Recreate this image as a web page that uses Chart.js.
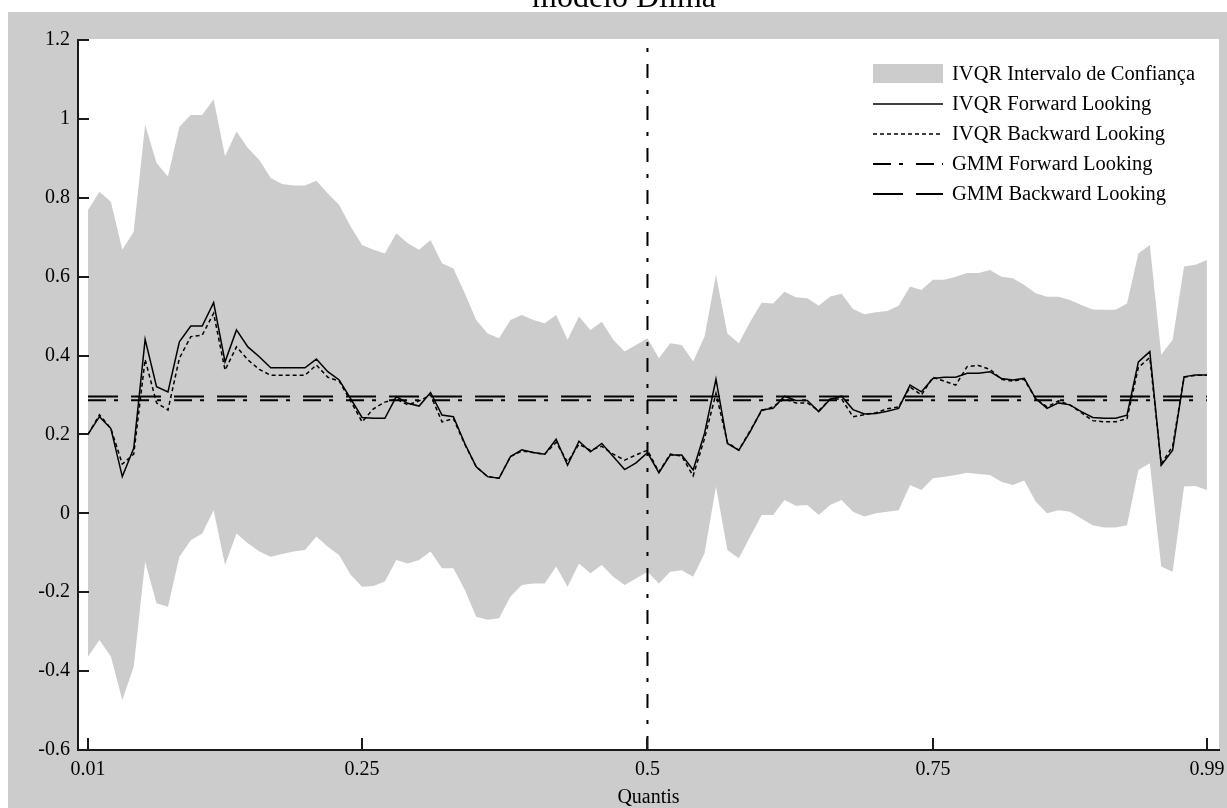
<!DOCTYPE html>
<html lang="pt-BR">
<head>
<meta charset="utf-8">
<title>modelo Dlima</title>
<script src="https://cdn.jsdelivr.net/npm/chart.js@4.4.1/dist/chart.umd.min.js"></script>
<style>
    html, body { margin: 0; padding: 0; background: #fff; }
    canvas { display: block; }
</style>
</head>
<body>
<canvas id="grafico_quantis" width="1227" height="808"></canvas>
<script>
const quantis = [
    0.01, 0.02, 0.03, 0.04, 0.05, 0.06, 0.07, 0.08, 0.09, 0.10,
    0.11, 0.12, 0.13, 0.14, 0.15, 0.16, 0.17, 0.18, 0.19, 0.20,
    0.21, 0.22, 0.23, 0.24, 0.25, 0.26, 0.27, 0.28, 0.29, 0.30,
    0.31, 0.32, 0.33, 0.34, 0.35, 0.36, 0.37, 0.38, 0.39, 0.40,
    0.41, 0.42, 0.43, 0.44, 0.45, 0.46, 0.47, 0.48, 0.49, 0.50,
    0.51, 0.52, 0.53, 0.54, 0.55, 0.56, 0.57, 0.58, 0.59, 0.60,
    0.61, 0.62, 0.63, 0.64, 0.65, 0.66, 0.67, 0.68, 0.69, 0.70,
    0.71, 0.72, 0.73, 0.74, 0.75, 0.76, 0.77, 0.78, 0.79, 0.80,
    0.81, 0.82, 0.83, 0.84, 0.85, 0.86, 0.87, 0.88, 0.89, 0.90,
    0.91, 0.92, 0.93, 0.94, 0.95, 0.96, 0.97, 0.98, 0.99
];

// intervalo de confianca do IVQR
const limiteSuperior = [
    0.769, 0.815, 0.79, 0.668, 0.714, 0.985, 0.888, 0.854, 0.98, 1.01,
    1.01, 1.05, 0.905, 0.968, 0.926, 0.896, 0.85, 0.835, 0.831, 0.831,
    0.843, 0.811, 0.782, 0.727, 0.68, 0.668, 0.659, 0.71, 0.685, 0.668,
    0.693, 0.634, 0.621, 0.558, 0.49, 0.456, 0.444, 0.49, 0.503, 0.49,
    0.482, 0.503, 0.44, 0.499, 0.465, 0.486, 0.44, 0.41, 0.427, 0.444,
    0.393, 0.431, 0.427, 0.385, 0.448, 0.604, 0.456, 0.431, 0.486, 0.534,
    0.532, 0.562, 0.548, 0.545, 0.526, 0.55, 0.557, 0.518, 0.505, 0.51,
    0.513, 0.526, 0.575, 0.566, 0.592, 0.592, 0.6, 0.609, 0.609, 0.617,
    0.6, 0.596, 0.579, 0.558, 0.549, 0.549, 0.541, 0.528, 0.517, 0.516,
    0.516, 0.532, 0.659, 0.68, 0.402, 0.44, 0.626, 0.63, 0.642
];
const limiteInferior = [
    -0.363, -0.321, -0.363, -0.473, -0.389, -0.123, -0.228, -0.237, -0.11, -0.068,
    -0.051, 0.008, -0.131, -0.051, -0.076, -0.097, -0.11, -0.103, -0.097, -0.093,
    -0.059, -0.085, -0.106, -0.156, -0.186, -0.184, -0.173, -0.118, -0.127, -0.118,
    -0.097, -0.139, -0.139, -0.194, -0.262, -0.27, -0.266, -0.211, -0.182, -0.178,
    -0.178, -0.135, -0.186, -0.127, -0.152, -0.131, -0.161, -0.182, -0.165, -0.148,
    -0.178, -0.148, -0.144, -0.161, -0.101, 0.068, -0.093, -0.114, -0.059, -0.004,
    -0.004, 0.034, 0.019, 0.021, -0.004, 0.021, 0.034, 0.004, -0.008, 0,
    0.004, 0.008, 0.072, 0.059, 0.089, 0.093, 0.097, 0.103, 0.1, 0.097,
    0.08, 0.072, 0.083, 0.03, 0, 0.008, 0.004, -0.013, -0.03, -0.036,
    -0.036, -0.03, 0.11, 0.127, -0.135, -0.148, 0.068, 0.069, 0.059
];

const ivqrForward = [
    0.201, 0.245, 0.215, 0.093, 0.165, 0.441, 0.321, 0.308, 0.435, 0.475,
    0.475, 0.534, 0.384, 0.465, 0.422, 0.397, 0.369, 0.369, 0.369, 0.369,
    0.391, 0.359, 0.338, 0.291, 0.243, 0.241, 0.241, 0.296, 0.279, 0.272,
    0.306, 0.249, 0.245, 0.177, 0.118, 0.093, 0.089, 0.144, 0.161, 0.154,
    0.15, 0.188, 0.122, 0.183, 0.156, 0.177, 0.144, 0.111, 0.128, 0.154,
    0.103, 0.148, 0.148, 0.11, 0.203, 0.34, 0.177, 0.16, 0.207, 0.262,
    0.266, 0.297, 0.286, 0.286, 0.258, 0.289, 0.297, 0.263, 0.252, 0.253,
    0.259, 0.266, 0.325, 0.308, 0.342, 0.345, 0.345, 0.355, 0.355, 0.359,
    0.342, 0.338, 0.342, 0.291, 0.266, 0.28, 0.275, 0.258, 0.243, 0.241,
    0.241, 0.249, 0.384, 0.41, 0.122, 0.16, 0.346, 0.351, 0.351
];
const ivqrBackward = [
    0.2, 0.25, 0.215, 0.125, 0.15, 0.39, 0.28, 0.262, 0.393, 0.448,
    0.452, 0.507, 0.363, 0.422, 0.389, 0.365, 0.35, 0.35, 0.35, 0.35,
    0.376, 0.345, 0.335, 0.285, 0.232, 0.265, 0.282, 0.29, 0.275, 0.285,
    0.3, 0.232, 0.24, 0.175, 0.118, 0.093, 0.089, 0.144, 0.158, 0.154,
    0.15, 0.18, 0.13, 0.175, 0.16, 0.17, 0.15, 0.135, 0.148, 0.16,
    0.105, 0.15, 0.145, 0.095, 0.19, 0.304, 0.18, 0.16, 0.21, 0.26,
    0.27, 0.29, 0.28, 0.28, 0.26, 0.29, 0.29, 0.245, 0.25, 0.255,
    0.265, 0.27, 0.32, 0.3, 0.345, 0.335, 0.325, 0.372, 0.375, 0.365,
    0.34, 0.335, 0.34, 0.29, 0.27, 0.285, 0.275, 0.255, 0.235, 0.232,
    0.232, 0.24, 0.37, 0.395, 0.125, 0.17, 0.345, 0.35, 0.35
];

// estimativas GMM (constantes em todos os quantis)
const gmmForward = 0.287;
const gmmBackward = 0.296;

const mediana = 0.5;
const ticksX = [0.01, 0.25, 0.5, 0.75, 0.99];
const limitesY = [-0.6, 1.2];

const fonte = "'Liberation Serif', 'Times New Roman', serif";
const cinza = '#cccccc';
const preto = '#000000';

const ctxQuantis = document.getElementById('grafico_quantis').getContext('2d');

function pontos(valores) {
    return quantis.map((q, i) => ({ x: q, y: valores[i] }));
}

function reta(valor) {
    return [
        { x: quantis[0], y: valor },
        { x: quantis[quantis.length - 1], y: valor }
    ];
}

// fundo cinza com a area do grafico em branco, e o titulo cortado no topo
const fundo = {
    id: 'fundo',
    beforeDraw(chart) {
        const c = chart.ctx;
        const a = chart.chartArea;
        c.save();
        c.fillStyle = '#ffffff';
        c.fillRect(0, 0, chart.width, chart.height);
        c.fillStyle = cinza;
        c.fillRect(8, 12, chart.width - 8, chart.height - 12);
        c.fillStyle = '#ffffff';
        c.fillRect(a.left, a.top - 1, a.right - a.left, a.bottom - a.top + 1);
        c.fillStyle = preto;
        c.font = '32px ' + fonte;
        c.textAlign = 'center';
        c.textBaseline = 'alphabetic';
        c.fillText('modelo Dlima', 624, 7);
        c.restore();
    }
};

// marcas dos eixos voltadas para dentro
const marcasInternas = {
    id: 'marcasInternas',
    afterDatasetsDraw(chart) {
        const c = chart.ctx;
        const a = chart.chartArea;
        const sx = chart.scales.x;
        const sy = chart.scales.y;
        c.save();
        c.strokeStyle = '#1a1a1a';
        c.lineWidth = 2;
        c.beginPath();
        sy.ticks.forEach((t) => {
            const py = Math.round(sy.getPixelForValue(t.value));
            c.moveTo(a.left, py);
            c.lineTo(a.left + 11, py);
        });
        sx.ticks.forEach((t) => {
            const px = Math.round(sx.getPixelForValue(t.value));
            c.moveTo(px, a.bottom);
            c.lineTo(px, a.bottom - 12);
        });
        c.stroke();
        c.restore();
    }
};

// legenda dentro da area do grafico, no canto superior direito
const legendaInterna = {
    id: 'legendaInterna',
    afterDraw(chart) {
        const c = chart.ctx;
        const x0 = chart.chartArea.right - 346;
        let y = chart.chartArea.top + 34;
        chart.data.datasets.forEach((ds) => {
            if (!ds.label) {
                return;
            }
            c.save();
            if (ds.fill) {
                c.fillStyle = ds.backgroundColor;
                c.fillRect(x0, y - 10, 70, 19);
            } else {
                c.strokeStyle = ds.borderColor;
                c.lineWidth = ds.borderWidth;
                c.setLineDash(ds.borderDash || []);
                c.beginPath();
                c.moveTo(x0, y);
                c.lineTo(x0 + 70, y);
                c.stroke();
            }
            c.fillStyle = preto;
            c.font = '20.5px ' + fonte;
            c.textAlign = 'left';
            c.textBaseline = 'middle';
            c.fillText(ds.label, x0 + 79, y + 1);
            c.restore();
            y += 30;
        });
    }
};

new Chart(ctxQuantis, {
    type: 'line',
    data: {
        datasets: [{
            label: 'IVQR Intervalo de Confiança',
            data: pontos(limiteSuperior),
            fill: '+1',
            backgroundColor: cinza,
            borderColor: 'rgba(0, 0, 0, 0)',
            borderWidth: 0,
            pointRadius: 0
        }, {
            label: '',
            data: pontos(limiteInferior),
            fill: false,
            borderColor: 'rgba(0, 0, 0, 0)',
            borderWidth: 0,
            pointRadius: 0
        }, {
            label: 'IVQR Forward Looking',
            data: pontos(ivqrForward),
            fill: false,
            borderColor: preto,
            borderWidth: 1.5,
            pointRadius: 0
        }, {
            label: 'IVQR Backward Looking',
            data: pontos(ivqrBackward),
            fill: false,
            borderColor: preto,
            borderWidth: 1.5,
            borderDash: [4, 3],
            pointRadius: 0
        }, {
            label: 'GMM Forward Looking',
            data: reta(gmmForward),
            fill: false,
            borderColor: preto,
            borderWidth: 2,
            borderDash: [18, 8, 4, 13],
            pointRadius: 0
        }, {
            label: 'GMM Backward Looking',
            data: reta(gmmBackward),
            fill: false,
            borderColor: preto,
            borderWidth: 2,
            borderDash: [30, 13],
            pointRadius: 0
        }, {
            label: '',
            data: [{ x: mediana, y: limitesY[0] }, { x: mediana, y: limitesY[1] }],
            fill: false,
            borderColor: preto,
            borderWidth: 2,
            borderDash: [14, 12, 4, 12],
            pointRadius: 0
        }]
    },
    options: {
        responsive: false,
        animation: false,
        events: [],
        layout: {
            padding: { top: 40, right: 8, bottom: 0, left: 0 }
        },
        plugins: {
            legend: { display: false },
            tooltip: { enabled: false },
            // a faixa cinza vai por baixo de todas as linhas
            filler: { drawTime: 'beforeDatasetsDraw' }
        },
        elements: {
            line: { tension: 0 }
        },
        scales: {
            x: {
                type: 'linear',
                min: 0.0012,
                max: 1.0006,
                afterBuildTicks: (scale) => {
                    scale.ticks = ticksX.map((v) => ({ value: v }));
                },
                afterFit: (scale) => {
                    scale.height = 58;
                    scale.paddingLeft = 0;
                    scale.paddingRight = 0;
                },
                grid: { display: false },
                border: { display: true, color: '#1a1a1a', width: 2 },
                ticks: {
                    autoSkip: false,
                    maxRotation: 0,
                    padding: 0,
                    color: preto,
                    font: { family: fonte, size: 20 },
                    callback: (v) => String(v)
                },
                title: {
                    display: true,
                    text: 'Quantis',
                    color: preto,
                    font: { family: fonte, size: 20 },
                    padding: { top: 0, bottom: -2 }
                }
            },
            y: {
                min: limitesY[0],
                max: limitesY[1],
                afterFit: (scale) => {
                    scale.width = 78;
                    scale.paddingTop = 0;
                    scale.paddingBottom = 0;
                },
                grid: { display: false },
                border: { display: true, color: '#1a1a1a', width: 2 },
                ticks: {
                    stepSize: 0.2,
                    padding: 0,
                    color: preto,
                    font: { family: fonte, size: 20 },
                    callback: (v) => String(Math.round(v * 10) / 10)
                }
            }
        }
    },
    plugins: [fundo, marcasInternas, legendaInterna]
});
</script>
</body>
</html>
